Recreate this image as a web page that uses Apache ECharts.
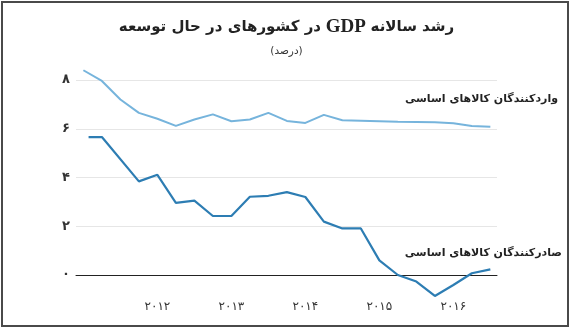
<!DOCTYPE html>
<html>
<head>
<meta charset="utf-8">
<script src="https://cdn.jsdelivr.net/npm/echarts@6/dist/echarts.min.js"></script>
<style>
html,body{margin:0;padding:0;background:#fff;}
#chart{width:573px;height:330px;}
</style>
</head>
<body>
<div id="chart" dir="rtl"></div>
<script>
// Data (x = time in decimal years, quarterly)
const importersX = [2011.0,2011.25,2011.5,2011.75,2012.0,2012.25,2012.5,2012.75,2013.0,2013.25,2013.5,2013.75,2014.0,2014.25,2014.5,2014.75,2015.0,2015.25,2015.5,2015.75,2016.0,2016.25,2016.5];
const importersY = [8.40,7.96,7.20,6.65,6.41,6.12,6.38,6.59,6.31,6.38,6.65,6.32,6.24,6.57,6.35,6.33,6.31,6.29,6.28,6.27,6.23,6.11,6.08];
const exportersX = [2011.07,2011.25,2011.75,2012.0,2012.25,2012.5,2012.75,2013.0,2013.25,2013.5,2013.75,2014.0,2014.25,2014.5,2014.75,2015.0,2015.25,2015.5,2015.75,2016.0,2016.25,2016.5];
const exportersY = [5.66,5.66,3.84,4.11,2.96,3.05,2.42,2.42,3.21,3.25,3.40,3.20,2.19,1.91,1.91,0.60,0.00,-0.27,-0.86,-0.41,0.07,0.23];
const yearTicks = [2012,2013,2014,2015,2016];
const seriesNames = ['واردکنندگان کالاهای اساسی','صادرکنندگان کالاهای اساسی'];
// title pieces in visual (left-to-right) order
const titleParts = ['در کشورهای در حال توسعه', 'GDP', 'رشد سالانه'];
const subtitleText = '(درصد)';

const faDigits = s => String(s).replace(/[0-9]/g, d => '۰۱۲۳۴۵۶۷۸۹'[d]);
const zip = (xs, ys) => xs.map((x, i) => [x, ys[i]]);

const chart = echarts.init(document.getElementById('chart'), null, {renderer:'canvas'});
chart.setOption({
  animation:false,
  backgroundColor:'#fff',
  title:[
    {text:'{a|' + titleParts[0] + '}{l| ' + titleParts[1] + ' }{a|' + titleParts[2] + '}', left:'center', top:13,
     textStyle:{rich:{
       a:{fontFamily:'"DejaVu Sans"', fontSize:15, fontWeight:'bold', color:'#222'},
       l:{fontFamily:'"Liberation Serif"', fontSize:19, fontWeight:'bold', color:'#222'}
     }}},
    {text:subtitleText, left:'center', top:41, textStyle:{fontFamily:'"DejaVu Sans"', fontSize:10.5, fontWeight:'normal', color:'#333'}}
  ],
  grid:{left:76, right:76, top:80, bottom:55, containLabel:false},
  xAxis:{
    type:'value', min:2010.9, max:2016.59,
    axisLine:{show:true, onZero:true, lineStyle:{color:'#222', width:1}},
    axisTick:{show:false},
    splitLine:{show:false},
    axisLabel:{customValues:yearTicks, margin:26, fontFamily:'"DejaVu Sans"', fontSize:12, color:'#333', formatter:v=>faDigits(v)}
  },
  yAxis:{
    type:'value', min:0, max:8, interval:2,
    axisLine:{show:false}, axisTick:{show:false},
    splitLine:{show:true, lineStyle:{color:'#e6e6e6', width:1}},
    axisLabel:{margin:6, fontFamily:'"DejaVu Sans"', fontSize:13, fontWeight:'bold', color:'#333', formatter:v=>faDigits(v)}
  },
  series:[
    {name:seriesNames[0], type:'line', data:zip(importersX, importersY), clip:false, symbol:'none',
     lineStyle:{color:'#76b4dc', width:2}},
    {name:seriesNames[1], type:'line', data:zip(exportersX, exportersY), clip:false, symbol:'none',
     lineStyle:{color:'#2d7db3', width:2.2}}
  ],
  graphic:[
    {type:'rect', shape:{x:2, y:2, width:566, height:324}, style:{fill:null, stroke:'#4a4a4a', lineWidth:2}, silent:true},
    {type:'text', right:15, top:94, style:{text:seriesNames[0], font:'bold 11px "DejaVu Sans"', fill:'#222'}},
    {type:'text', right:11, top:248, style:{text:seriesNames[1], font:'bold 11px "DejaVu Sans"', fill:'#222'}}
  ]
});
</script>
</body>
</html>
